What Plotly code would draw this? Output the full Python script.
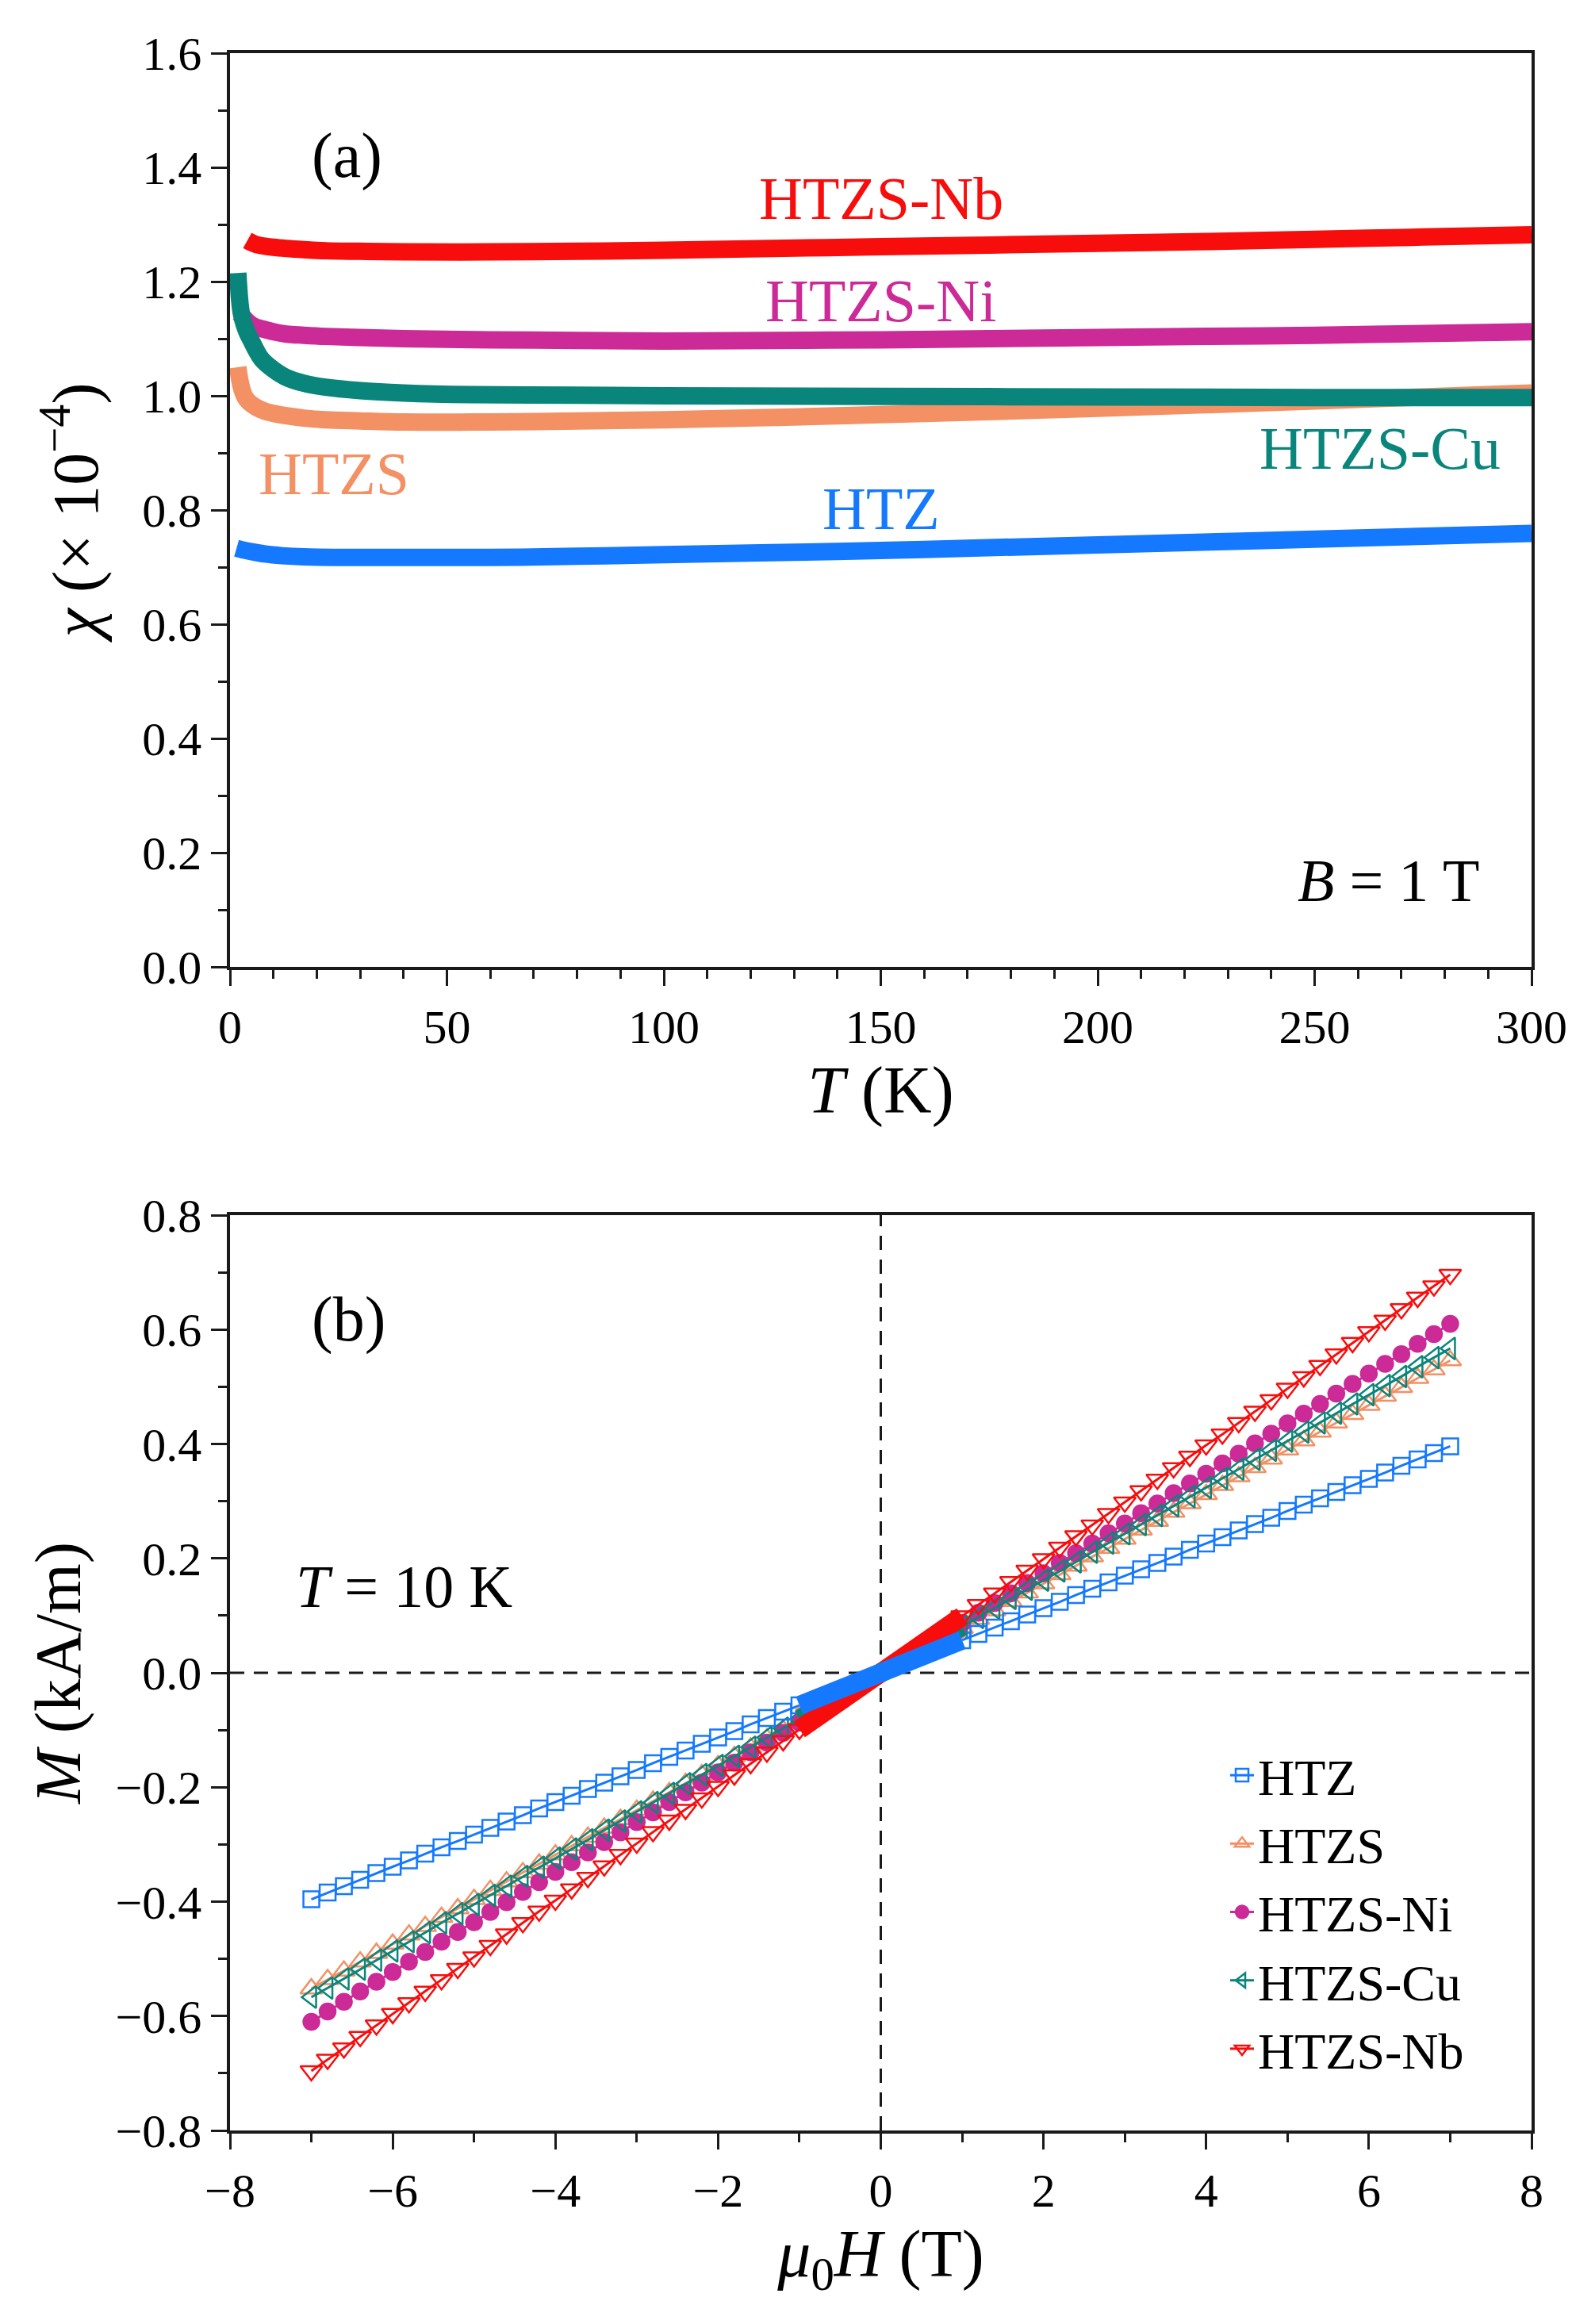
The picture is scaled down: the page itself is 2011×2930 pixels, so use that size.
import plotly.graph_objects as go

# ---- (a) susceptibility vs temperature, B = 1 T ----
T_htz = [1.5, 3, 5, 8, 12, 17, 25, 40, 60, 80, 100, 130, 160, 200, 250, 300]
chi_htz = [0.733, 0.730, 0.727, 0.723, 0.720, 0.718, 0.717, 0.717, 0.717, 0.719,
           0.722, 0.726, 0.731, 0.739, 0.749, 0.759]

T_htzs = [1.8, 2.2, 2.8, 3.5, 4.5, 6, 8, 10, 13, 17, 22, 30, 40, 55, 70, 100,
          130, 160, 200, 250, 300]
chi_htzs = [1.050, 1.030, 1.010, 0.997, 0.988, 0.980, 0.973, 0.969, 0.965, 0.961,
            0.958, 0.956, 0.954, 0.954, 0.955, 0.958, 0.963, 0.969, 0.978, 0.991, 1.005]

T_ni = [2, 3, 4, 5, 6, 8, 10, 13, 17, 22, 30, 40, 60, 80, 100, 125, 150, 175,
        200, 225, 250, 275, 300]
chi_ni = [1.145, 1.138, 1.130, 1.124, 1.120, 1.116, 1.112, 1.108, 1.106, 1.104,
          1.102, 1.100, 1.098, 1.097, 1.096, 1.097, 1.098, 1.100, 1.102, 1.104,
          1.106, 1.109, 1.112]

T_cu = [1.8, 2.2, 2.6, 3.3, 4, 5, 6, 7.3, 10, 13, 17, 22, 30, 40, 55, 80, 100,
        150, 200, 250, 300]
chi_cu = [1.215, 1.170, 1.145, 1.124, 1.110, 1.095, 1.080, 1.064, 1.046, 1.032,
          1.022, 1.015, 1.009, 1.005, 1.002, 1.001, 1.000, 0.999, 0.998, 0.997, 0.997]

T_nb = [4, 5, 6, 8, 10, 13, 17, 22, 30, 40, 60, 80, 100, 125, 150, 175, 200,
        225, 250, 275, 300]
chi_nb = [1.272, 1.268, 1.265, 1.262, 1.260, 1.258, 1.256, 1.254, 1.253, 1.252,
          1.252, 1.253, 1.255, 1.258, 1.261, 1.264, 1.267, 1.270, 1.274, 1.278, 1.282]

# ---- (b) M(H) at 10 K ----
H_neg = [-7.0, -6.8, -6.6, -6.4, -6.2, -6.0, -5.8, -5.6, -5.4, -5.2, -5.0, -4.8,
         -4.6, -4.4, -4.2, -4.0, -3.8, -3.6, -3.4, -3.2, -3.0, -2.8, -2.6, -2.4,
         -2.2, -2.0, -1.8, -1.6, -1.4, -1.2, -1.0]
H_pos = [1.0, 1.2, 1.4, 1.6, 1.8, 2.0, 2.2, 2.4, 2.6, 2.8, 3.0, 3.2, 3.4, 3.6,
         3.8, 4.0, 4.2, 4.4, 4.6, 4.8, 5.0, 5.2, 5.4, 5.6, 5.8, 6.0, 6.2, 6.4,
         6.6, 6.8, 7.0]
H_low = [-1.0, -0.5, 0.0, 0.5, 1.0]

M_htz_neg = [-0.396, -0.384, -0.373, -0.362, -0.350, -0.339, -0.328, -0.316, -0.305,
             -0.294, -0.283, -0.271, -0.260, -0.249, -0.237, -0.226, -0.215, -0.203,
             -0.192, -0.181, -0.170, -0.158, -0.147, -0.136, -0.124, -0.113, -0.102,
             -0.090, -0.079, -0.068, -0.057]
M_htz_pos = [0.057, 0.068, 0.079, 0.090, 0.102, 0.113, 0.124, 0.136, 0.147, 0.158,
             0.170, 0.181, 0.192, 0.203, 0.215, 0.226, 0.237, 0.249, 0.260, 0.271,
             0.283, 0.294, 0.305, 0.316, 0.328, 0.339, 0.350, 0.362, 0.373, 0.384, 0.396]
M_htz_low = [-0.057, -0.028, 0.0, 0.028, 0.057]

M_htzs_neg = [-0.552, -0.536, -0.521, -0.505, -0.490, -0.474, -0.458, -0.443, -0.427,
              -0.412, -0.396, -0.380, -0.365, -0.349, -0.334, -0.318, -0.302, -0.287,
              -0.271, -0.256, -0.240, -0.224, -0.209, -0.193, -0.178, -0.162, -0.146,
              -0.131, -0.115, -0.100, -0.084]
M_htzs_pos = [0.078, 0.094, 0.109, 0.125, 0.140, 0.156, 0.172, 0.187, 0.203, 0.218,
              0.234, 0.250, 0.265, 0.281, 0.296, 0.312, 0.328, 0.343, 0.359, 0.374,
              0.390, 0.406, 0.421, 0.437, 0.452, 0.468, 0.484, 0.499, 0.515, 0.530, 0.546]
M_htzs_low = [-0.078, -0.039, 0.0, 0.039, 0.078]

M_ni_neg = [-0.610, -0.592, -0.575, -0.557, -0.540, -0.523, -0.505, -0.488, -0.470,
            -0.453, -0.436, -0.418, -0.401, -0.383, -0.366, -0.348, -0.331, -0.314,
            -0.296, -0.279, -0.261, -0.244, -0.226, -0.209, -0.192, -0.174, -0.157,
            -0.139, -0.122, -0.105, -0.087]
M_ni_pos = [0.087, 0.105, 0.122, 0.139, 0.157, 0.174, 0.192, 0.209, 0.226, 0.244,
            0.261, 0.279, 0.296, 0.314, 0.331, 0.348, 0.366, 0.383, 0.401, 0.418,
            0.436, 0.453, 0.470, 0.488, 0.505, 0.523, 0.540, 0.557, 0.575, 0.592, 0.610]
M_ni_low = [-0.087, -0.044, 0.0, 0.044, 0.087]

M_cu_neg = [-0.567, -0.551, -0.535, -0.518, -0.502, -0.486, -0.470, -0.454, -0.437,
            -0.421, -0.405, -0.389, -0.373, -0.356, -0.340, -0.324, -0.308, -0.292,
            -0.275, -0.259, -0.243, -0.227, -0.211, -0.194, -0.178, -0.162, -0.146,
            -0.130, -0.113, -0.097, -0.081]
M_cu_pos = [0.081, 0.097, 0.113, 0.130, 0.146, 0.162, 0.178, 0.194, 0.211, 0.227,
            0.243, 0.259, 0.275, 0.292, 0.308, 0.324, 0.340, 0.356, 0.373, 0.389,
            0.405, 0.421, 0.437, 0.454, 0.470, 0.486, 0.502, 0.518, 0.535, 0.551, 0.567]
M_cu_low = [-0.081, -0.041, 0.0, 0.041, 0.081]

M_nb_neg = [-0.696, -0.676, -0.656, -0.636, -0.616, -0.596, -0.577, -0.557, -0.537,
            -0.517, -0.497, -0.477, -0.457, -0.437, -0.417, -0.398, -0.378, -0.358,
            -0.338, -0.318, -0.298, -0.278, -0.258, -0.239, -0.219, -0.199, -0.179,
            -0.159, -0.139, -0.119, -0.099]
M_nb_pos = [0.099, 0.119, 0.139, 0.159, 0.179, 0.199, 0.219, 0.239, 0.258, 0.278,
            0.298, 0.318, 0.338, 0.358, 0.378, 0.398, 0.417, 0.437, 0.457, 0.477,
            0.497, 0.517, 0.537, 0.557, 0.577, 0.596, 0.616, 0.636, 0.656, 0.676, 0.696]
M_nb_low = [-0.099, -0.050, 0.0, 0.050, 0.099]

names = ["HTZ", "HTZS", "HTZS-Ni", "HTZS-Cu", "HTZS-Nb"]
colors = {"HTZ": "#1479FF", "HTZS": "#F39064", "HTZS-Ni": "#CC2A96",
          "HTZS-Cu": "#0A857B", "HTZS-Nb": "#F80D0D"}
symbols = {"HTZ": "square-open", "HTZS": "triangle-up-open", "HTZS-Ni": "circle",
           "HTZS-Cu": "triangle-left-open", "HTZS-Nb": "triangle-down-open"}
sizes = {"HTZ": 20, "HTZS": 24, "HTZS-Ni": 20, "HTZS-Cu": 24, "HTZS-Nb": 24}

chi_data = {"HTZ": (T_htz, chi_htz), "HTZS": (T_htzs, chi_htzs),
            "HTZS-Ni": (T_ni, chi_ni), "HTZS-Cu": (T_cu, chi_cu),
            "HTZS-Nb": (T_nb, chi_nb)}
m_data = {"HTZ": (M_htz_neg, M_htz_pos, M_htz_low),
          "HTZS": (M_htzs_neg, M_htzs_pos, M_htzs_low),
          "HTZS-Ni": (M_ni_neg, M_ni_pos, M_ni_low),
          "HTZS-Cu": (M_cu_neg, M_cu_pos, M_cu_low),
          "HTZS-Nb": (M_nb_neg, M_nb_pos, M_nb_low)}

FONT = "Liberation Serif, Times New Roman, serif"
W, H = 1995, 2914  # page body keeps an 8 px margin


def px(xr):
    return (xr - 8) / W


def py(yr):
    return 1 - (yr - 8) / H


fig = go.Figure()

# panel (a): dense measurements drawn as thick bands
for n in names:
    t, c = chi_data[n]
    fig.add_trace(go.Scatter(
        x=t, y=c, mode="lines", line=dict(color=colors[n], width=22, shape="spline"),
        showlegend=False, xaxis="x", yaxis="y"))

# panel (b): high-field points with symbols
draw_order = ["HTZS", "HTZS-Ni", "HTZS-Cu", "HTZS-Nb", "HTZ"]
for n in draw_order:
    neg, pos, low = m_data[n]
    for hh, mm, show in ((H_neg, neg, False), (H_pos, pos, True)):
        fig.add_trace(go.Scatter(
            x=hh, y=mm, mode="lines+markers", name=n, legendgroup=n,
            legendrank=names.index(n) + 1, showlegend=show,
            line=dict(color=colors[n], width=3),
            marker=dict(symbol=symbols[n], size=sizes[n], color=colors[n],
                        line=dict(color=colors[n], width=2.5)),
            xaxis="x2", yaxis="y2"))
# low-field dense region
for n in draw_order:
    fig.add_trace(go.Scatter(
        x=H_low, y=m_data[n][2], mode="lines", legendgroup=n, showlegend=False,
        line=dict(color=colors[n], width=24), xaxis="x2", yaxis="y2"))

axis_common = dict(
    showline=True, linecolor="#1a1a1a", linewidth=3.5, mirror=True,
    ticks="outside", ticklen=20, tickwidth=3, tickcolor="#1a1a1a",
    showgrid=False, zeroline=False, automargin=False,
    tickfont=dict(family=FONT, size=60, color="black"),
    minor=dict(ticks="outside", ticklen=11, tickwidth=3, tickcolor="#1a1a1a",
               showgrid=False),
)

fig.update_layout(
    width=W, height=H, margin=dict(l=0, r=0, t=0, b=0),
    paper_bgcolor="white", plot_bgcolor="white",
    font=dict(family=FONT, color="black"),
    xaxis=dict(domain=[px(290), px(1931)], anchor="y", range=[0, 300],
               dtick=50, minor_dtick=10,
               title=dict(text="<i>T</i> (K)", font=dict(size=84), standoff=10),
               **axis_common),
    yaxis=dict(domain=[py(1219), py(67)], anchor="x", range=[0, 1.6],
               dtick=0.2, minor_dtick=0.1, tickformat=".1f",
               title=dict(text="<i>χ</i> (× 10<sup>−4</sup>)", font=dict(size=82),
                          standoff=30),
               **axis_common),
    xaxis2=dict(domain=[px(290), px(1931)], anchor="y2", range=[-8, 8],
                dtick=2, minor_dtick=1,
                title=dict(text="<i>μ</i><sub>0</sub><i>H</i> (T)",
                           font=dict(size=84), standoff=14),
                **axis_common),
    yaxis2=dict(domain=[py(2686), py(1532)], anchor="x2", range=[-0.8, 0.8],
                dtick=0.2, minor_dtick=0.1, tickformat=".1f",
                title=dict(text="<i>M</i> (kA/m)", font=dict(size=82), standoff=18),
                **axis_common),
    legend=dict(x=px(1546), y=py(2190), xanchor="left", yanchor="top",
                font=dict(family=FONT, size=64, color="black"),
                bgcolor="rgba(0,0,0,0)", tracegroupgap=0, itemwidth=30),
    shapes=[
        dict(type="line", xref="x2", yref="y2 domain", x0=0, x1=0, y0=0, y1=1,
             line=dict(color="#1a1a1a", width=3, dash="18px,12px"), layer="below"),
        dict(type="line", xref="x2 domain", yref="y2", x0=0, x1=1, y0=0, y1=0,
             line=dict(color="#1a1a1a", width=3, dash="18px,12px"), layer="below"),
    ],
)

# text labels inside the panels
labels_a = [("(a)", 27, 1.42, "black"), ("HTZS-Nb", 150, 1.346, colors["HTZS-Nb"]),
            ("HTZS-Ni", 150, 1.167, colors["HTZS-Ni"]),
            ("HTZS-Cu", 265, 0.908, colors["HTZS-Cu"]),
            ("HTZS", 24, 0.864, colors["HTZS"]), ("HTZ", 150, 0.803, colors["HTZ"]),
            ("<i>B</i> = 1 T", 267, 0.151, "black")]
for txt, xx, yy, col in labels_a:
    fig.add_annotation(x=xx, y=yy, xref="x", yref="y", text=txt, showarrow=False,
                       font=dict(family=FONT, size=76 if txt != "(a)" else 80, color=col))

fig.add_annotation(x=-6.54, y=0.617, xref="x2", yref="y2", text="(b)", showarrow=False,
                   font=dict(family=FONT, size=80, color="black"))
fig.add_annotation(x=-5.86, y=0.151, xref="x2", yref="y2", text="<i>T</i> = 10 K",
                   showarrow=False, font=dict(family=FONT, size=76, color="black"))

fig.write_html("out.html")
